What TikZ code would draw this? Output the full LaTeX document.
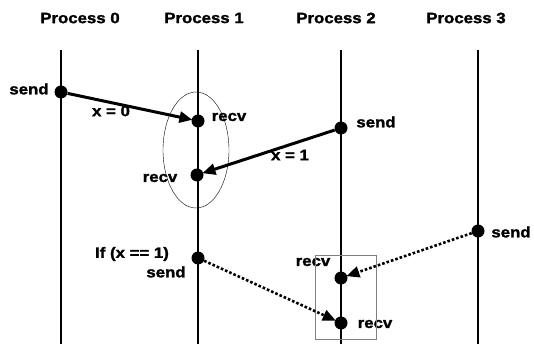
\documentclass[tikz,border=0pt]{standalone}
\usepackage{fontspec}
\setmainfont{Liberation Sans}[FakeStretch=1.12,FakeBold=1.5]
\usepackage{tikz}
\usetikzlibrary{arrows.meta,positioning,calc}

\begin{document}
\begin{tikzpicture}[x=1pt,y=-1pt,
  font=\fontsize{15}{17}\selectfont\bfseries,
  ev/.style={circle,fill,inner sep=0pt,minimum size=13pt},
  lbl/.style={inner sep=0pt},
  msg/.style={line width=3pt,-{Triangle[length=13pt,width=11pt]},shorten >=-1pt},
  dmsg/.style={line width=2.6pt,dotted,-{Triangle[length=13pt,width=11pt]},shorten >=-1pt}]
  \useasboundingbox (0,0) rectangle (534,344);
  % process headers and time lines
  \node[lbl] (h0) at (80,18) {Process 0};
  \node[lbl] (h1) at (204,18) {Process 1};
  \node[lbl] (h2) at (336,18) {Process 2};
  \node[lbl] (h3) at (466,18) {Process 3};
  \foreach \n/\x in {0/61,1/198,2/341,3/478}{
    \coordinate (t\n) at (\x,50);
    \coordinate (b\n) at (\x,344);
    \draw[line width=2.6pt] (t\n) -- (b\n);
  }
  % events
  \node[ev] (s0) at (61,92) {};
  \node[ev] (r1) at (198,121) {};
  \node[ev] (r1b) at (197,175) {};
  \node[ev] (s2) at (341,128) {};
  \node[ev] (s1) at (198,258) {};
  \node[ev] (s3) at (478,231) {};
  \node[ev] (r2) at (341,278) {};
  \node[ev] (r2b) at (341,323) {};
  \node[lbl] at (29,89) {send};
  \node[lbl] at (229,117) {recv};
  \node[lbl] at (160,178) {recv};
  \node[lbl] at (376,122) {send};
  \node[lbl] at (511,232) {send};
  \node[lbl] at (313,262) {recv};
  \node[lbl] at (375,324) {recv};
  \node[lbl] at (132,254) {If (x == 1)};
  \node[lbl] at (166,272) {send};
  % groups
  \draw[thin] (196,150) ellipse (33 and 58);
  \draw[thin,gray] (315,255) rectangle (376,339);
  % messages
  \draw[msg] (s0) -- (r1);
  \node[lbl] at (111,111) {x = 0};
  \draw[msg] (s2) -- (r1b);
  \node[lbl] at (290,155) {x = 1};
  \draw[dmsg] (s3) -- (r2);
  \draw[dmsg] (s1) -- (r2b);
\end{tikzpicture}
\end{document}
